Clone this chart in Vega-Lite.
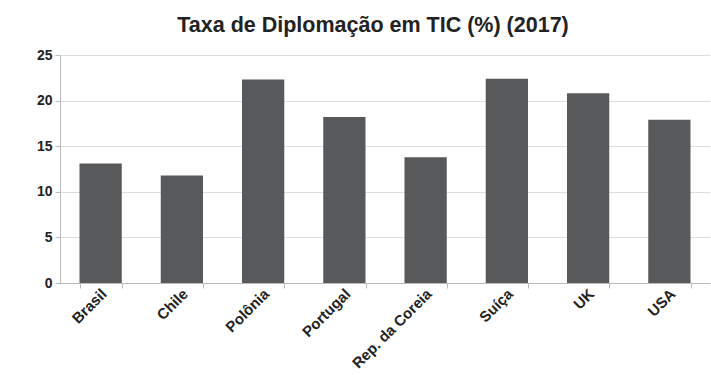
{
  "$schema": "https://vega.github.io/schema/vega-lite/v6.json",
  "autosize": "none",
  "width": 650,
  "height": 228,
  "padding": {"left": 60, "top": 55, "right": 1, "bottom": 92},
  "background": "white",
  "title": {"text": "Taxa de Diplomação em TIC (%) (2017)", "font": "Liberation Sans", "fontSize": 21.5, "fontWeight": "bold", "color": "#222222", "anchor": "middle", "offset": 12, "dx": -12},
  "data": {"values": [
    {"pais": "Brasil", "taxa": 13.1},
    {"pais": "Chile", "taxa": 11.8},
    {"pais": "Polônia", "taxa": 22.3},
    {"pais": "Portugal", "taxa": 18.2},
    {"pais": "Rep. da Coreia", "taxa": 13.8},
    {"pais": "Suíça", "taxa": 22.4},
    {"pais": "UK", "taxa": 20.8},
    {"pais": "USA", "taxa": 17.9}
  ]},
  "mark": {"type": "bar", "color": "#58595b"},
  "encoding": {
    "x": {"field": "pais", "type": "nominal", "sort": null, "title": null,
      "scale": {"paddingInner": 0.48, "paddingOuter": 0.24},
      "axis": {"labelAngle": -45, "labelAlign": "right", "labelBaseline": "middle", "labelFont": "Liberation Sans", "labelFontWeight": "bold", "labelFontSize": 15, "labelColor": "#222222", "domainColor": "#bbbbbb", "tickColor": "#bbbbbb", "tickBand": "extent", "tickSize": 5, "labelPadding": 3, "labelOffset": 3}},
    "y": {"field": "taxa", "type": "quantitative", "title": null,
      "scale": {"domain": [0, 25]},
      "axis": {"values": [0, 5, 10, 15, 20, 25], "labelFont": "Liberation Sans", "labelFontWeight": "bold", "labelFontSize": 14, "labelColor": "#222222", "domainColor": "#bbbbbb", "tickColor": "#bbbbbb", "gridColor": "#dddddd", "tickSize": 5, "labelPadding": 3}}
  },
  "config": {"view": {"stroke": null}}
}
